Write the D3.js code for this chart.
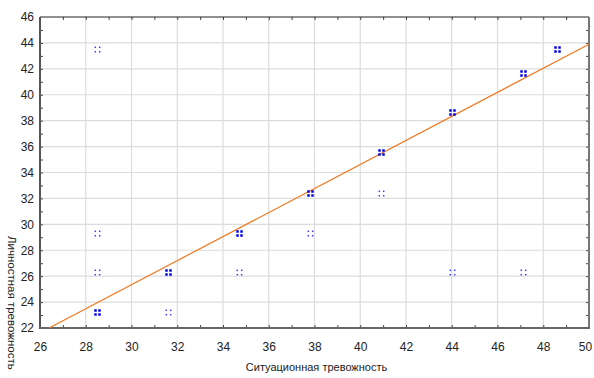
<!DOCTYPE html>
<html>
<head>
<meta charset="utf-8">
<script src="https://cdn.jsdelivr.net/npm/d3@7"></script>
<style>
  body { margin: 0; background: #fff; }
  text { font-family: "Liberation Sans", Arial, sans-serif; }
</style>
</head>
<body>
<script>
// points; heavy = several overlapping cases
var ptX = [28.5, 28.5, 28.5, 28.5, 31.6, 31.6, 34.7, 34.7, 37.8, 37.8, 40.9, 40.9, 44.0, 44.0, 47.1, 47.1, 48.6];
var ptY = [43.5, 29.3, 26.3, 23.2, 26.3, 23.2, 29.3, 26.3, 32.4, 29.3, 35.6, 32.4, 38.7, 26.3, 41.7, 26.3, 43.5];
var ptHeavy = [0, 0, 0, 1, 1, 0, 1, 0, 1, 0, 1, 0, 1, 0, 1, 0, 1];

// fitted line end points
var fitX = [26.4, 50];
var fitY = [22, 43.9];

var xTicks = [26, 28, 30, 32, 34, 36, 38, 40, 42, 44, 46, 48, 50];
var yTicks = [22, 24, 26, 28, 30, 32, 34, 36, 38, 40, 42, 44, 46];

var xTitle = "Ситуационная тревожность";
var yTitle = "Личностная тревожность";

var W = 594, H = 378;
var L = 40, R = 589, T = 17, B = 328;

var x = d3.scaleLinear().domain([26, 50]).range([L, R]);
var y = d3.scaleLinear().domain([22, 46]).range([B, T]);

var svg = d3.select("body").append("svg")
  .attr("width", W)
  .attr("height", H);

// grid
svg.append("g").selectAll("line").data(xTicks.slice(1, -1)).enter().append("line")
  .attr("x1", d => x(d)).attr("x2", d => x(d))
  .attr("y1", T).attr("y2", B)
  .attr("stroke", "#dcdcdc").attr("stroke-width", 1.2);
svg.append("g").selectAll("line").data(yTicks.slice(1, -1)).enter().append("line")
  .attr("y1", d => y(d)).attr("y2", d => y(d))
  .attr("x1", L).attr("x2", R)
  .attr("stroke", "#dcdcdc").attr("stroke-width", 1.2);

var minorX = d3.range(27, 50, 1);
var minorY = d3.range(23, 46, 1);

// frame axes with inward ticks
var axB = svg.append("g").attr("transform", `translate(0,${B})`)
  .call(d3.axisBottom(x).tickValues(minorX).tickSize(-3).tickFormat(""));
var axT = svg.append("g").attr("transform", `translate(0,${T})`)
  .call(d3.axisTop(x).tickValues(minorX).tickSize(-3).tickFormat(""));
var axL = svg.append("g").attr("transform", `translate(${L},0)`)
  .call(d3.axisLeft(y).tickValues(minorY).tickSize(-3).tickFormat(""));
var axR = svg.append("g").attr("transform", `translate(${R},0)`)
  .call(d3.axisRight(y).tickValues(minorY).tickSize(-3).tickFormat(""));
[axB, axT, axL, axR].forEach(g => {
  g.select(".domain").remove();
  g.selectAll("line").attr("stroke", "#444");
});

var xLab = svg.append("g").attr("transform", `translate(0,${B})`)
  .call(d3.axisBottom(x).tickValues(xTicks).tickSize(0).tickPadding(14));
xLab.select(".domain").remove();
xLab.selectAll("text").attr("font-size", 12).attr("fill", "#222")
  .attr("font-family", "Liberation Sans, Arial, sans-serif");
// last label sits at the window edge, pull it in a little
xLab.selectAll("text").filter(d => d === 50).attr("dx", -4);

var yLab = svg.append("g").attr("transform", `translate(${L},0)`)
  .call(d3.axisLeft(y).tickValues(yTicks).tickSize(0).tickPadding(6));
yLab.select(".domain").remove();
yLab.selectAll("text").attr("font-size", 12).attr("fill", "#222")
  .attr("font-family", "Liberation Sans, Arial, sans-serif");

// frame lines
svg.append("line").attr("x1", L).attr("x2", R).attr("y1", T).attr("y2", T)
  .attr("stroke", "#222").attr("stroke-width", 1);
svg.append("line").attr("x1", R).attr("x2", R).attr("y1", T).attr("y2", B)
  .attr("stroke", "#777").attr("stroke-width", 2);
svg.append("line").attr("x1", L).attr("x2", L).attr("y1", T).attr("y2", B + 1)
  .attr("stroke", "#555").attr("stroke-width", 2);
svg.append("line").attr("x1", L).attr("x2", R + 1).attr("y1", B).attr("y2", B)
  .attr("stroke", "#666").attr("stroke-width", 2);

// fit line
svg.append("path")
  .attr("d", d3.line().x(d => x(d[0])).y(d => y(d[1]))(d3.zip(fitX, fitY)))
  .attr("stroke", "#f07820").attr("stroke-width", 1.2).attr("fill", "none");

// markers: four small squares around each point
var offs = [[-1, -1], [1, -1], [-1, 1], [1, 1]];
var pts = ptX.map((v, i) => ({ x: v, y: ptY[i], h: ptHeavy[i] }));
var mg = svg.append("g");
pts.forEach(p => {
  var cx = Math.round(x(p.x)) + 0.5, cy = Math.round(y(p.y)) + 0.5;
  var s = p.h ? 2.5 : 1.5;
  var d = p.h ? 2 : 2.2;
  offs.forEach(o => {
    mg.append("rect")
      .attr("x", cx + o[0] * d - s / 2)
      .attr("y", cy + o[1] * d - s / 2)
      .attr("width", s).attr("height", s)
      .attr("fill", p.h ? "#0000e6" : "#3c3cff");
  });
});

// titles
svg.append("text")
  .attr("x", (L + R) / 2 + 2).attr("y", 371)
  .attr("text-anchor", "middle")
  .attr("font-size", 11).attr("fill", "#222")
  .text(xTitle);

svg.append("text")
  .attr("transform", `translate(8,236) rotate(90)`)
  .attr("font-size", 11.5).attr("fill", "#222")
  .text(yTitle);
</script>
</body>
</html>
